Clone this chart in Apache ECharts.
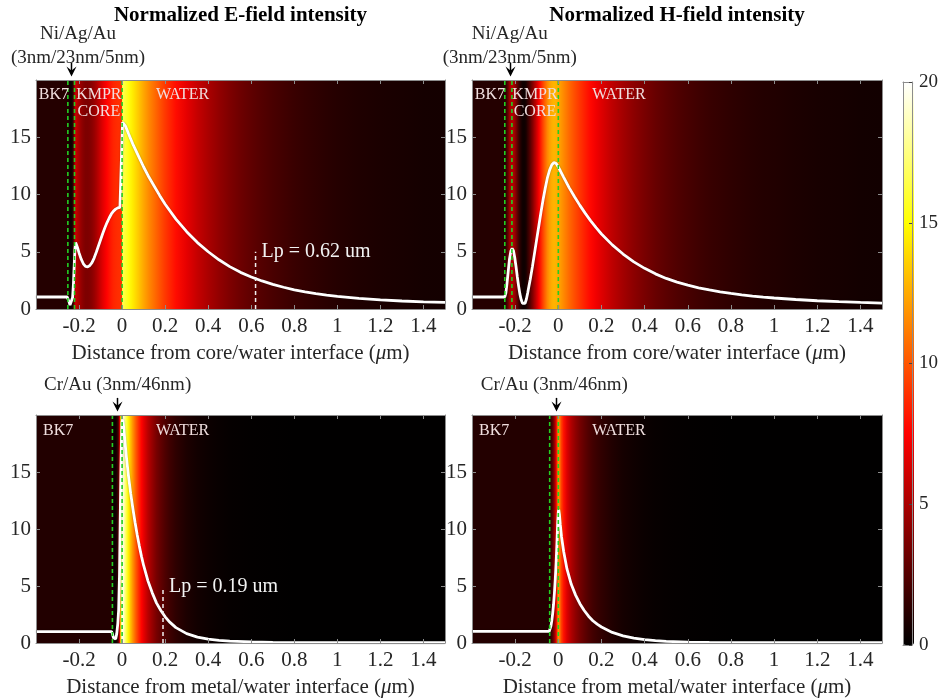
<!DOCTYPE html>
<html><head><meta charset="utf-8">
<script src="https://cdn.jsdelivr.net/npm/echarts@6/dist/echarts.min.js"></script>
<style>html,body{margin:0;padding:0;background:#fff}#c{width:941px;height:700px}</style>
</head><body><div id="c"></div>
<script>
// ---------- data ----------
const xTickLabels = ['-0.2','0','0.2','0.4','0.6','0.8','1','1.2','1.4'];
const yTickLabels = ['0','5','10','15'];
const cbTickLabels = ['0','5','10','15','20'];
const hotColors = ['#000000','#550000','#aa0000','#ff0000','#ff5500','#ffaa00','#ffff00','#ffff80','#ffffff'];

const titles = ['Normalized E-field intensity','Normalized H-field intensity'];
const axisNames = ['Distance from core/water interface ({mu|μ}m)','Distance from metal/water interface ({mu|μ}m)'];

// E-field, core/water structure
const eCore = [[-0.4,1.05],[-0.3,1.05],[-0.255,1.05],[-0.25,0.95],[-0.246,0.6],[-0.242,0.35],[-0.238,0.3],[-0.234,0.45],[-0.23,1.0],[-0.226,2.2],[-0.222,4.0],[-0.219,5.3],[-0.216,5.8],[-0.212,5.7],[-0.206,5.3],[-0.2,4.9],[-0.19,4.35],[-0.18,3.95],[-0.17,3.72],[-0.16,3.68],[-0.15,3.8],[-0.14,4.05],[-0.13,4.45],[-0.12,4.95],[-0.11,5.5],[-0.1,6.05],[-0.09,6.6],[-0.08,7.1],[-0.07,7.55],[-0.06,7.95],[-0.05,8.3],[-0.04,8.55],[-0.03,8.72],[-0.02,8.83],[-0.01,8.88],[-0.002,8.9],[0.002,16.3],[0.006,16.45],[0.015,16.0],[0.03,15.3],[0.05,14.4],[0.075,13.4],[0.1,12.4],[0.125,11.5],[0.15,10.7],[0.175,9.9],[0.2,9.15],[0.25,7.85],[0.3,6.75],[0.35,5.8],[0.4,5.0],[0.45,4.3],[0.5,3.7],[0.55,3.2],[0.6,2.8],[0.65,2.45],[0.7,2.15],[0.75,1.9],[0.8,1.68],[0.85,1.5],[0.9,1.35],[0.95,1.22],[1.0,1.1],[1.1,0.92],[1.2,0.8],[1.3,0.7],[1.4,0.63],[1.5,0.58]];
// H-field, core/water structure
const hCore = [[-0.4,1.05],[-0.3,1.05],[-0.248,1.05],[-0.243,1.4],[-0.238,2.2],[-0.232,3.3],[-0.226,4.4],[-0.22,5.05],[-0.214,5.3],[-0.208,5.1],[-0.202,4.5],[-0.196,3.7],[-0.19,2.8],[-0.184,2.0],[-0.178,1.3],[-0.172,0.8],[-0.166,0.5],[-0.16,0.4],[-0.154,0.5],[-0.148,0.85],[-0.142,1.4],[-0.136,2.0],[-0.13,2.6],[-0.12,3.7],[-0.11,4.9],[-0.1,6.1],[-0.09,7.3],[-0.08,8.5],[-0.07,9.6],[-0.06,10.6],[-0.05,11.5],[-0.04,12.15],[-0.03,12.6],[-0.02,12.8],[-0.01,12.7],[0,12.4],[0.01,12.05],[0.025,11.5],[0.05,10.6],[0.075,9.8],[0.1,9.05],[0.125,8.35],[0.15,7.7],[0.175,7.1],[0.2,6.55],[0.25,5.6],[0.3,4.8],[0.35,4.12],[0.4,3.55],[0.45,3.07],[0.5,2.67],[0.55,2.35],[0.6,2.08],[0.65,1.85],[0.7,1.66],[0.75,1.5],[0.8,1.36],[0.85,1.24],[0.9,1.13],[0.95,1.04],[1.0,0.96],[1.1,0.83],[1.2,0.72],[1.3,0.64],[1.4,0.57],[1.5,0.52]];
// E-field, metal/water structure
const eMetal = [[-0.4,1.0],[-0.3,1.0],[-0.049,1.0],[-0.045,0.8],[-0.04,0.45],[-0.035,0.3],[-0.03,0.35],[-0.025,0.8],[-0.02,1.7],[-0.016,2.9],[-0.012,6.0],[-0.009,10.5],[-0.006,14.5],[-0.003,17.8],[0,19.4],[0.003,19.6],[0.007,19.0],[0.012,17.9],[0.02,16.3],[0.03,14.6],[0.04,13.1],[0.05,11.8],[0.06,10.6],[0.07,9.5],[0.08,8.5],[0.09,7.6],[0.1,6.8],[0.12,5.45],[0.14,4.4],[0.16,3.5],[0.18,2.85],[0.2,2.3],[0.22,1.85],[0.25,1.35],[0.3,0.82],[0.35,0.52],[0.4,0.34],[0.45,0.23],[0.5,0.16],[0.6,0.09],[0.7,0.06],[0.8,0.04],[1.0,0.03],[1.2,0.02],[1.5,0.02]];
// H-field, metal/water structure
const hMetal = [[-0.4,1.02],[-0.3,1.02],[-0.042,1.02],[-0.038,1.15],[-0.034,1.5],[-0.03,2.0],[-0.026,2.6],[-0.022,3.4],[-0.018,4.4],[-0.014,5.6],[-0.01,7.1],[-0.006,8.9],[-0.003,10.5],[0,11.5],[0.002,11.7],[0.005,11.3],[0.009,10.4],[0.015,9.3],[0.025,8.0],[0.04,6.5],[0.06,5.15],[0.08,4.2],[0.1,3.45],[0.12,2.85],[0.14,2.35],[0.16,1.95],[0.18,1.65],[0.2,1.4],[0.25,0.93],[0.3,0.63],[0.35,0.43],[0.4,0.3],[0.45,0.21],[0.5,0.15],[0.6,0.08],[0.7,0.05],[0.8,0.03],[1.0,0.02],[1.5,0.02]];

// layer boundaries (um) per panel
const layerLines = [[-0.252,-0.221,0],[-0.248,-0.215,0],[-0.045,0],[-0.04,0]];
// decay-length markers: [panel, x, top value, label]
const lpMarks = [[0,0.62,5,'Lp = 0.62 um'],[2,0.19,4.9,'Lp = 0.19 um']];
// region labels: [text, x, y]
const coreRegions = [['BK7',-0.317,18.7],['KMPR',-0.108,18.7],['CORE',-0.108,17.2],['WATER',0.281,18.7]];
const metalRegions = [['BK7',-0.297,18.6],['WATER',0.281,18.6]];
// stack annotation: text lines [text, y], text centre x and arrow x per panel
const coreStack = [['Ni/Ag/Au',24.05],['(3nm/23nm/5nm)',21.95]];
const metalStack = [['Cr/Au (3nm/46nm)',22.6]];
const stackTextX = [-0.205,-0.225,-0.021,-0.0185];
const stackArrowX = [-0.237,-0.225,-0.023,-0.013];
const arrowY = [21.5,20.3];

const panelData = [eCore,hCore,eMetal,hMetal];

// ---------- layout ----------
const FONT = 'Liberation Serif';
const TXT = '#262626';
const gridBoxes = [[36,80,409,229],[472,80,410,229],[36,415,409,228],[472,415,410,228]];
const cbBox = [903,82,11,563];
const X_MIN=-0.4, X_MAX=1.5, Y_MIN=0, Y_MAX=20;

const fmtX = v => { const s = String(Math.round(v*10)/10); return xTickLabels.includes(s) ? s : ''; };
const fmtY = v => { const s = String(Math.round(v)); return yTickLabels.includes(s) ? s : ''; };
const fmtCb = v => { const s = String(Math.round(v)); return cbTickLabels.includes(s) ? s : ''; };

const frameLine = {show:true, onZero:false, lineStyle:{color:'#8c8c8c', width:1}};
const innerTick = {show:true, inside:true, length:4, lineStyle:{color:'#8c8c8c', width:1}};
const labelStyle = {fontFamily:FONT, fontSize:21, color:TXT};

const grids=[], xAxes=[], yAxes=[], series=[];
gridBoxes.forEach((b,g)=>{
  grids.push({left:b[0], top:b[1], width:b[2], height:b[3]});
  xAxes.push({gridIndex:g, type:'value', position:'bottom', min:X_MIN, max:X_MAX, interval:0.2, z:10,
    axisLine:frameLine, axisTick:innerTick, splitLine:{show:false},
    axisLabel:Object.assign({margin:7, formatter:fmtX}, labelStyle),
    name:axisNames[g>=2?1:0], nameLocation:'middle', nameGap:34,
    nameTextStyle:Object.assign({rich:{mu:{fontFamily:FONT,fontSize:21,color:TXT,fontStyle:'italic'}}}, labelStyle)});
  xAxes.push({gridIndex:g, type:'value', position:'top', min:X_MIN, max:X_MAX, interval:0.2, z:10,
    axisLine:frameLine, axisTick:innerTick, splitLine:{show:false}, axisLabel:{show:false}});
  yAxes.push({gridIndex:g, type:'value', position:'left', min:Y_MIN, max:Y_MAX, interval:5, z:10,
    axisLine:frameLine, axisTick:innerTick, splitLine:{show:false},
    axisLabel:Object.assign({margin:5, formatter:fmtY}, labelStyle)});
  yAxes.push({gridIndex:g, type:'value', position:'right', min:Y_MIN, max:Y_MAX, interval:5, z:10,
    axisLine:frameLine, axisTick:innerTick, splitLine:{show:false}, axisLabel:{show:false}});
});
// colorbar frame + ticks
grids.push({left:cbBox[0], top:cbBox[1], width:cbBox[2], height:cbBox[3]});
xAxes.push({gridIndex:4, type:'value', position:'bottom', min:0, max:1, z:10, axisLine:frameLine, axisTick:{show:false}, axisLabel:{show:false}, splitLine:{show:false}});
xAxes.push({gridIndex:4, type:'value', position:'top', min:0, max:1, z:10, axisLine:frameLine, axisTick:{show:false}, axisLabel:{show:false}, splitLine:{show:false}});
yAxes.push({gridIndex:4, type:'value', position:'left', min:0, max:20, interval:5, z:10, axisLine:frameLine, axisTick:{show:false}, axisLabel:{show:false}, splitLine:{show:false}});
yAxes.push({gridIndex:4, type:'value', position:'right', min:0, max:20, interval:5, z:10, axisLine:frameLine,
  axisTick:{show:true, inside:true, length:3, lineStyle:{color:'#444'}}, splitLine:{show:false},
  axisLabel:{margin:7, formatter:fmtCb, fontFamily:FONT, fontSize:19, color:TXT}});

function heatItem(params, api){
  const i = params.dataIndexInside, n = params.dataInsideLength;
  if (i >= n-1) return null;
  const x0 = api.value(0,i), x1 = api.value(0,i+1);
  const p0 = api.coord([x0, Y_MAX]), p1 = api.coord([x1, Y_MIN]);
  const c0 = api.visual('color', i), c1 = api.visual('color', i+1);
  const last = i === n-2;
  return {type:'rect', shape:{x:p0[0], y:p0[1], width:p1[0]-p0[0]+(last?0:1.2), height:p1[1]-p0[1]},
    style:{fill:new echarts.graphic.LinearGradient(p0[0],0,Math.max(p1[0],p0[0]+0.01),0,
      [{offset:0,color:c0},{offset:1,color:c1}], true)}};
}
// heat backgrounds (series 0-3)
panelData.forEach((d,g)=>{
  series.push({type:'custom', xAxisIndex:2*g, yAxisIndex:2*g, data:d, renderItem:heatItem, clip:true, z:1, silent:true,
    encode:{x:0,y:1}});
});
// curves (series 4-7)
panelData.forEach((d,g)=>{
  series.push({type:'line', xAxisIndex:2*g, yAxisIndex:2*g, data:d, showSymbol:false, symbol:'none', z:3,
    lineStyle:{color:'#ffffff', width:2.8, shadowColor:'rgba(0,0,0,0.35)', shadowBlur:1.5}, silent:true});
});
// layer boundary dashed lines
layerLines.forEach((arr,g)=>{
  arr.forEach(x=>{
    series.push({type:'line', xAxisIndex:2*g, yAxisIndex:2*g, data:[[x,Y_MIN],[x,Y_MAX]], showSymbol:false, symbol:'none', z:4,
      lineStyle:{color:'#22d022', width:1.6, type:[4,3]}, silent:true});
  });
});
// Lp dashed markers
lpMarks.forEach(m=>{
  series.push({type:'line', xAxisIndex:2*m[0], yAxisIndex:2*m[0], data:[[m[1],Y_MIN],[m[1],m[2]]], showSymbol:false, symbol:'none', z:4,
    lineStyle:{color:'#f0f0f0', width:1.5, type:[4,3]}, silent:true});
});
series.push({type:'line', xAxisIndex:8, yAxisIndex:8, data:[]});

const chart = echarts.init(document.getElementById('c'));
chart.setOption({
  animation:false,
  backgroundColor:'#ffffff',
  grid:grids, xAxis:xAxes, yAxis:yAxes, series:series,
  visualMap:{type:'continuous', min:0, max:20, dimension:1, seriesIndex:[0,1,2,3],
    inRange:{color:hotColors}, left:cbBox[0], top:cbBox[1], itemWidth:cbBox[2], itemHeight:cbBox[3],
    calculable:false, realtime:false, hoverLink:false, padding:0, text:null, showLabel:false}
});

// ---------- annotations placed through the axes' own scales ----------
const gfx = [];
const px = (g, x, y) => chart.convertToPixel({seriesIndex:4+g}, [x, y]);
const txt = (p, text, font, fill, align) => ({type:'text', x:p[0], y:p[1], z:50, silent:true,
  style:{text:text, font:font, fill:fill, align:align||'center', verticalAlign:'middle', textAlign:align||'center', textVerticalAlign:'middle'}});

gridBoxes.forEach((b,g)=>{
  if (g < 2) gfx.push(txt([b[0]+b[2]/2, 16], titles[g], 'bold 21px "'+FONT+'"', '#000'));
  const regions = g < 2 ? coreRegions : metalRegions;
  regions.forEach(r=> gfx.push(txt(px(g, r[1], r[2]), r[0], '16px "'+FONT+'"', '#f0dede')));
  const stack = g < 2 ? coreStack : metalStack;
  stack.forEach(s=> gfx.push(txt(px(g, stackTextX[g], s[1]), s[0], '19px "'+FONT+'"', TXT)));
  const a0 = px(g, stackArrowX[g], arrowY[0]), a1 = px(g, stackArrowX[g], arrowY[1]);
  const ax = Math.round(a0[0]) + 0.5;
  gfx.push({type:'line', z:50, silent:true, shape:{x1:ax, y1:a0[1], x2:ax, y2:a1[1]-5}, style:{stroke:'#000', lineWidth:1.5}});
  gfx.push({type:'polygon', z:50, silent:true, shape:{points:[[ax-5,a1[1]-10],[ax,a1[1]-6],[ax+5,a1[1]-10],[ax,a1[1]]]}, style:{fill:'#000'}});
});
lpMarks.forEach(m=>{
  const p = px(m[0], m[1], m[2]);
  gfx.push(txt([p[0]+6, p[1]], m[3], '20px "'+FONT+'"', '#f2f2f2', 'left'));
});
chart.setOption({graphic:{elements:gfx}});
</script>
</body></html>
